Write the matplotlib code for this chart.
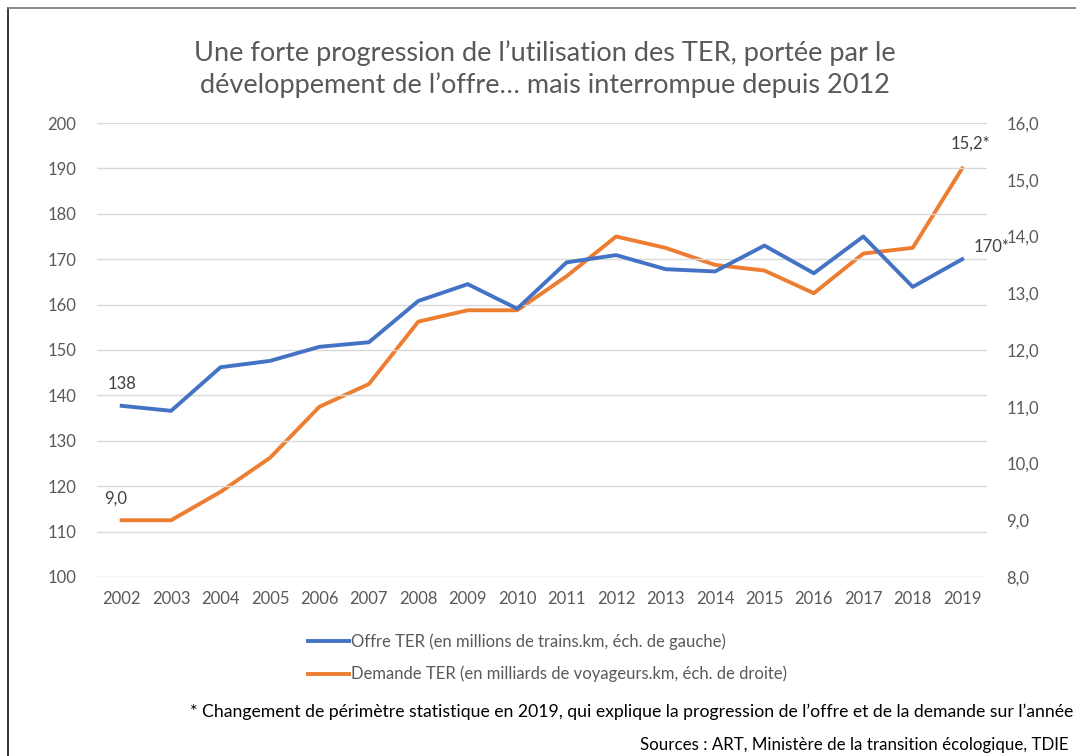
import matplotlib
matplotlib.use("Agg")
import matplotlib.pyplot as plt
from matplotlib.lines import Line2D
from matplotlib.ticker import FuncFormatter

plt.rcParams['font.family'] = ['Lato', 'DejaVu Sans']

## DONNEES ##
annees = list(range(2002, 2020))
offre = [137.7, 136.6, 146.2, 147.6, 150.7, 151.7, 160.8, 164.5, 159.1,
         169.3, 170.9, 167.8, 167.3, 173.0, 166.9, 175.0, 163.9, 170.0]
demande = [9.0, 9.0, 9.5, 10.1, 11.0, 11.4, 12.5, 12.7, 12.7,
           13.3, 14.0, 13.8, 13.5, 13.4, 13.0, 13.7, 13.8, 15.2]
ticks_gauche = [100, 110, 120, 130, 140, 150, 160, 170, 180, 190, 200]
ticks_droite = [8, 9, 10, 11, 12, 13, 14, 15, 16]

titre = "Une forte progression de l\u2019utilisation des TER, port\u00e9e par le\nd\u00e9veloppement de l\u2019offre\u2026 mais interrompue depuis 2012"
lab_offre = "Offre TER (en millions de trains.km, \u00e9ch. de gauche)"
lab_demande = "Demande TER (en milliards de voyageurs.km, \u00e9ch. de droite)"
note = "* Changement de p\u00e9rim\u00e8tre statistique en 2019, qui explique la progression de l\u2019offre et de la demande sur l\u2019ann\u00e9e"
sources = "Sources : ART, Minist\u00e8re de la transition \u00e9cologique, TDIE"

bleu = '#4472C4'
orange = '#ED7D31'
gris = '#595959'

fig = plt.figure(figsize=(10.76, 7.56), dpi=100)
ax = fig.add_axes([0.0901, 0.2368, 0.8271, 0.6005])
ax2 = ax.twinx()

l1, = ax.plot(annees, offre, color=bleu, lw=2.8, solid_joinstyle='round')
l2, = ax2.plot(annees, demande, color=orange, lw=2.8, solid_joinstyle='round')

ax.set_xlim(2001.5, 2019.5)
ax.set_ylim(100, 200)
ax2.set_ylim(8, 16)
ax.set_yticks(ticks_gauche)
ax2.set_yticks(ticks_droite)
ax.set_xticks(annees)
ax2.yaxis.set_major_formatter(FuncFormatter(lambda v, p: f"{v:.1f}".replace('.', ',')))

ax.grid(axis='y', color='#D9D9D9', lw=1)
ax.set_axisbelow(True)
ax.set_zorder(ax2.get_zorder() + 1)
ax.patch.set_visible(False)
for a in (ax, ax2):
    for s in a.spines.values():
        s.set_visible(False)
ax.tick_params(axis='both', length=0, labelsize=12, colors=gris)
ax.tick_params(axis='y', pad=15)
ax.tick_params(axis='x', pad=10)
ax2.tick_params(axis='y', length=0, labelsize=12, colors=gris, pad=14)

# etiquettes
ax.annotate("138", (annees[0], offre[0]), xytext=(0, 10), textcoords='offset points',
            ha='center', va='bottom', fontsize=12, color='#404040')
ax2.annotate("9,0", (annees[0], demande[0]), xytext=(-4, 10), textcoords='offset points',
             ha='center', va='bottom', fontsize=12, color='#404040')
ax2.annotate("15,2*", (annees[-1], demande[-1]), xytext=(6, 12), textcoords='offset points',
             ha='center', va='bottom', fontsize=12, color='#404040')
ax.annotate("170*", (annees[-1], offre[-1]), xytext=(21, 9), textcoords='offset points',
            ha='center', va='center', fontsize=12, color='#404040')

fig.text(0.506, 0.909, titre, ha='center', va='center', fontsize=19.5, color=gris,
         linespacing=1.3)

fig.legend([l1, l2], [lab_offre, lab_demande], loc='upper left',
           bbox_to_anchor=(0.272, 0.182), bbox_transform=fig.transFigure,
           frameon=False, fontsize=12, handlelength=2.5, handletextpad=0.1,
           labelspacing=0.95, labelcolor=gris)

fig.text(0.997, 0.058, note, ha='right', va='center', fontsize=12.7, color='black')
fig.text(0.993, 0.015, sources, ha='right', va='center', fontsize=12.2, color='black')

# cadre
fig.add_artist(Line2D([8/1076, 8/1076], [0, 1 - 8/756], color='#262626', lw=1.3,
                      transform=fig.transFigure))
fig.add_artist(Line2D([8/1076, 1], [1 - 8/756, 1 - 8/756], color='#7F7F7F', lw=1.3,
                      transform=fig.transFigure))

fig.savefig("out.png", dpi=100)
